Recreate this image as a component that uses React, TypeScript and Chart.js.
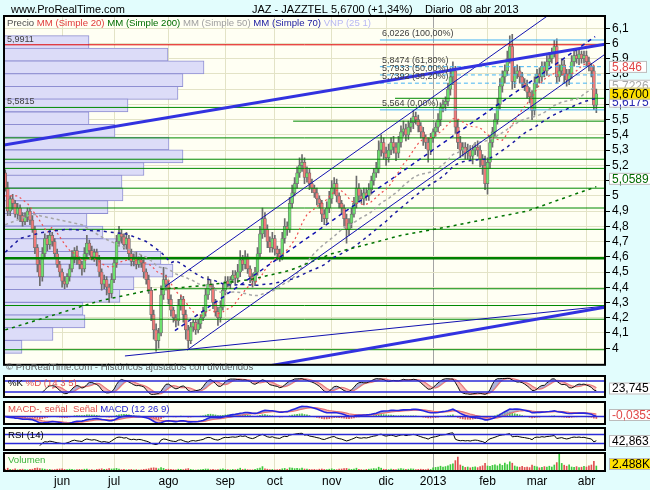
import { useEffect, useRef } from "react"
import { Chart, registerables } from "chart.js"

Chart.register(...registerables)
Chart.defaults.font.family = "'Liberation Sans', Arial, sans-serif"
Chart.defaults.color = "#000"

// daily closes, 30 abr 2012 .. 08 abr 2013
const closes = [
  5.05, 4.9, 4.98, 4.95, 4.88, 4.92, 4.87, 4.83, 4.86, 4.9,
  4.84, 4.78, 4.66, 4.55, 4.47, 4.62, 4.72, 4.68, 4.74, 4.7,
  4.62, 4.55, 4.5, 4.44, 4.42, 4.47, 4.52, 4.6, 4.64, 4.58,
  4.55, 4.52, 4.62, 4.69, 4.64, 4.6, 4.63, 4.58, 4.5, 4.42,
  4.45, 4.4, 4.36, 4.45, 4.56, 4.7, 4.75, 4.73, 4.68, 4.72,
  4.62, 4.57, 4.6, 4.55, 4.58, 4.56, 4.5, 4.45, 4.38, 4.22,
  4.12, 4.05, 4.1, 4.35, 4.45, 4.42, 4.32, 4.25, 4.2, 4.18,
  4.28, 4.32, 4.22, 4.12, 4.05, 4.14, 4.17, 4.12, 4.16, 4.2,
  4.24, 4.35, 4.42, 4.4, 4.3, 4.24, 4.2, 4.27, 4.38, 4.44,
  4.42, 4.45, 4.48, 4.46, 4.5, 4.58, 4.55, 4.6, 4.52, 4.47,
  4.44, 4.5, 4.62, 4.75, 4.85, 4.78, 4.7, 4.66, 4.72, 4.65,
  4.62, 4.6, 4.72, 4.8, 4.78, 4.95, 5.02, 5.08, 5.15, 5.2,
  5.22, 5.12, 5.15, 5.08, 5.05, 5.02, 4.98, 4.95, 4.88, 4.85,
  4.92, 4.98, 5.05, 5.08, 5.0, 4.95, 4.92, 4.85, 4.78, 4.82,
  4.88, 4.95, 5.05, 5.0, 4.98, 5.02, 5.0, 5.04, 5.1, 5.15,
  5.18, 5.3, 5.35, 5.28, 5.25, 5.3, 5.35, 5.32, 5.28, 5.35,
  5.42, 5.44, 5.4, 5.45, 5.48, 5.52, 5.5, 5.46, 5.42, 5.38,
  5.35, 5.3, 5.38, 5.42, 5.45, 5.5, 5.58, 5.6, 5.62, 5.7,
  5.78, 5.82, 5.45, 5.35, 5.3, 5.32, 5.28, 5.3, 5.26, 5.3,
  5.32, 5.3, 5.24, 5.2, 5.08, 5.22, 5.35, 5.42, 5.5, 5.6,
  5.72, 5.78, 5.82, 5.9, 5.98, 5.75, 5.8, 5.82, 5.78, 5.74,
  5.72, 5.68, 5.65, 5.56, 5.74, 5.8, 5.78, 5.85, 5.82, 5.88,
  5.9, 5.94, 5.98, 5.78, 5.82, 5.86, 5.8, 5.76, 5.8, 5.88,
  5.92, 5.9, 5.93, 5.9, 5.92, 5.88, 5.85, 5.82, 5.595, 5.67,
]
const firstOpen = 5.15

// wick lengths above / below the body, in cents
const wickUp = [
  2, 4, 2, 3, 2, 3, 2, 2, 3, 2, 2, 3, 2, 2, 3, 4, 3, 2, 4, 2,
  2, 3, 2, 2, 3, 2, 3, 4, 2, 3, 2, 2, 4, 5, 2, 3, 2, 2, 3, 2,
  3, 2, 2, 4, 3, 4, 5, 3, 2, 4, 2, 3, 2, 3, 2, 3, 2, 2, 3, 2,
  3, 4, 3, 6, 8, 3, 2, 3, 2, 2, 4, 3, 2, 3, 3, 3, 2, 2, 3, 2,
  3, 4, 5, 3, 2, 2, 3, 4, 4, 3, 3, 2, 3, 3, 5, 6, 3, 4, 2, 2,
  2, 3, 4, 5, 7, 4, 3, 3, 4, 2, 2, 3, 4, 5, 3, 4, 5, 4, 4, 5,
  5, 3, 4, 3, 3, 2, 3, 2, 2, 3, 4, 5, 5, 4, 3, 2, 2, 2, 3, 3,
  4, 4, 8, 3, 4, 3, 3, 4, 3, 3, 4, 6, 5, 3, 4, 4, 3, 4, 3, 4,
  4, 5, 3, 4, 3, 4, 3, 3, 2, 3, 2, 3, 3, 2, 3, 4, 3, 3, 3, 4,
  6, 6, 3, 5, 4, 3, 3, 4, 3, 3, 3, 4, 3, 3, 6, 3, 4, 3, 4, 4,
  5, 4, 4, 5, 7, 8, 5, 4, 3, 3, 3, 4, 3, 4, 4, 3, 4, 3, 3, 4,
  4, 3, 4, 5, 4, 4, 3, 3, 3, 4, 3, 4, 3, 2, 3, 3, 3, 2, 3, 3,
]
const wickDown = [
  2, 3, 3, 4, 2, 3, 4, 3, 2, 3, 3, 2, 4, 5, 6, 3, 3, 4, 3, 3,
  3, 2, 3, 4, 3, 2, 3, 2, 4, 3, 3, 4, 2, 3, 3, 2, 3, 4, 3, 4,
  3, 5, 6, 3, 2, 3, 3, 4, 3, 3, 4, 3, 3, 3, 2, 3, 4, 3, 2, 4,
  6, 7, 5, 2, 3, 4, 3, 4, 3, 4, 3, 3, 5, 6, 5, 2, 3, 3, 2, 3,
  2, 3, 3, 2, 4, 3, 5, 3, 2, 3, 2, 3, 2, 4, 3, 3, 4, 3, 3, 4,
  4, 3, 2, 2, 3, 5, 4, 3, 3, 4, 4, 3, 2, 3, 4, 2, 3, 2, 3, 3,
  4, 4, 3, 4, 3, 3, 4, 3, 5, 4, 3, 3, 3, 4, 4, 3, 4, 5, 9, 4,
  3, 2, 3, 4, 3, 4, 3, 3, 3, 3, 3, 3, 4, 4, 5, 3, 3, 4, 5, 3,
  3, 3, 4, 3, 3, 4, 3, 4, 4, 5, 4, 8, 3, 3, 3, 3, 4, 3, 4, 3,
  4, 5, 4, 4, 5, 4, 4, 4, 3, 5, 3, 4, 5, 6, 4, 7, 4, 3, 3, 3,
  3, 4, 4, 3, 3, 5, 4, 3, 4, 3, 3, 4, 4, 6, 3, 3, 4, 3, 4, 3,
  3, 3, 3, 4, 3, 3, 6, 4, 3, 3, 3, 3, 4, 3, 3, 3, 3, 4, 3, 5,
]

// daily volume, thousands of shares
const volumes = [
  900, 1400, 800, 700, 1100, 600, 800, 900, 700, 600,
  800, 900, 1300, 1500, 1200, 1100, 900, 700, 800, 600,
  700, 900, 1000, 1100, 800, 700, 900, 800, 600, 700,
  800, 700, 900, 1000, 600, 700, 500, 800, 900, 1100,
  800, 900, 1200, 1000, 1100, 1300, 900, 700, 800, 600,
  700, 800, 600, 700, 500, 600, 800, 900, 1100, 1500,
  1600, 1400, 1100, 1700, 1300, 800, 900, 800, 700, 600,
  900, 800, 700, 1000, 1200, 800, 600, 500, 600, 700,
  800, 1000, 900, 700, 800, 600, 700, 900, 1100, 800,
  700, 600, 800, 700, 900, 1400, 800, 900, 700, 600,
  600, 800, 1200, 1500, 2200, 1100, 900, 700, 800, 600,
  700, 800, 1100, 1300, 900, 1600, 1400, 1200, 1300, 1100,
  1500, 1000, 900, 800, 700, 800, 600, 900, 1000, 800,
  700, 900, 1100, 800, 700, 900, 1000, 1200, 1300, 900,
  800, 900, 1400, 800, 700, 600, 800, 900, 1000, 1200,
  1100, 1900, 1400, 900, 800, 700, 900, 800, 700, 1000,
  1200, 1000, 800, 900, 1100, 1000, 700, 800, 900, 800,
  700, 900, 800, 1600, 1800, 2000, 2400, 1900, 2200, 2600,
  3200, 3600, 5200, 7000, 3000, 2400, 1800, 2000, 1600, 1900,
  2100, 1700, 2200, 2600, 3800, 2500, 2300, 2800, 3100, 2600,
  3400, 2800, 4000, 3200, 4600, 3900, 2500, 2100, 1900, 2300,
  1800, 2000, 1700, 2900, 2400, 2100, 1600, 1800, 2200, 1900,
  2400, 2000, 3000, 4200, 8600, 3800, 2900, 2400, 3100, 2000,
  1800, 2200, 1700, 1900, 2300, 2000, 2600, 3000, 4800, 2488,
]

// first trading day of each month (day index) and its axis label
const monthStarts = [23, 44, 66, 89, 109, 132, 154, 173, 195, 215, 235]
const monthNames = ["jun", "jul", "ago", "sep", "oct", "nov", "dic", "2013", "feb", "mar", "abr"]
const yearStart = 173

const priceTicks = [4, 4.1, 4.2, 4.3, 4.4, 4.5, 4.6, 4.7, 4.8, 4.9, 5, 5.1, 5.2, 5.3, 5.4, 5.5, 5.6, 5.7, 5.8, 5.9, 6, 6.1]

// volume profile: bin centre prices and bin volume
const profilePrices = [
  6.009, 5.926, 5.843, 5.759, 5.676, 5.593, 5.509, 5.426, 5.343, 5.259, 5.176, 5.093, 5.009,
  4.926, 4.843, 4.759, 4.676, 4.593, 4.509, 4.426, 4.343, 4.259, 4.176, 4.093, 4.009,
]
const profileVolumes = [
  850, 1640, 2000, 1790, 1740, 1240, 850, 1110, 1650, 1790, 1400, 1180, 1190,
  1040, 830, 990, 1260, 1570, 1690, 1300, 1160, 790, 810, 490, 180,
]

// support / resistance levels
const greenLevels = [5.58, 5.38, 5.24, 5.18, 5.05, 4.92, 4.78, 4.28, 4.19, 3.99]
const greenPartialLevels = [5.64, 5.49, 4.39]
const greenPartialFrom = [157.6, 116.4, 62.6]
const greenThickLevel = 4.59
const redLevel = 5.9911

// Fibonacci retracement
const fibLevels = [6.0226, 5.8474, 5.7933, 5.7392, 5.564]
const fibLabels = ["6,0226 (100,00%)", "5,8474 (61,80%)", "5,7933 (50,00%)", "5,7392 (38,20%)", "5,564 (0,00%)"]
const fibFrom = 151.5

// drawn trend lines: [dayFrom, priceFrom, dayTo, priceTo]
const channelLines = [
  [64.6, 4.404, 219.1, 6.179],
  [73.5, 3.987, 242.5, 5.929],
  [48.4, 3.949, 242.5, 4.276],
]
const channelDashed = [[68.6, 4.115, 238.5, 6.045]]
const heavyLines = [
  [-0.5, 5.333, 242.5, 5.994],
  [107.1, 3.885, 242.5, 4.269],
]

// moving averages read off the chart where the series has no history yet
const mm20EarlyDays = [0, 5, 9, 13, 17]
const mm20EarlyValues = [5.0, 5.0, 4.95, 4.86, 4.76]
const mm50EarlyDays = [0, 11, 31, 40]
const mm50EarlyValues = [4.81, 4.88, 4.81, 4.72]
const mm70EarlyDays = [0, 6, 15, 25, 38, 49, 57, 63, 67]
const mm70EarlyValues = [4.63, 4.72, 4.76, 4.78, 4.77, 4.75, 4.7, 4.63, 4.56]
const mm200Days = [0, 18, 38, 58, 79, 99, 115, 132, 160, 180, 211, 239]
const mm200Values = [4.12, 4.21, 4.31, 4.38, 4.41, 4.45, 4.51, 4.62, 4.74, 4.8, 4.9, 5.06]

const X_MIN = -0.5
const X_MAX = 242.5
const Y_MIN = 3.891
const Y_MAX = 6.18

const opens = closes.map((c, i) => (i === 0 ? firstOpen : closes[i - 1]))
const highs = closes.map((c, i) => Math.max(opens[i], c) + wickUp[i] / 100)
const lows = closes.map((c, i) => Math.min(opens[i], c) - wickDown[i] / 100)
const rising = closes.map((c, i) => c >= opens[i])

function sma(src: (number | null)[], n: number) {
  return src.map((_, i) => {
    if (i < n - 1) return null
    let s = 0
    for (let k = i - n + 1; k <= i; k++) {
      const v = src[k]
      if (v == null) return null
      s += v
    }
    return s / n
  })
}

function ema(src: number[], n: number) {
  const k = 2 / (n + 1)
  const out: number[] = []
  src.forEach((v, i) => out.push(i === 0 ? v : v * k + out[i - 1] * (1 - k)))
  return out
}

function rsi(src: number[], n: number) {
  const out: (number | null)[] = src.map(() => null)
  let g = 0
  let l = 0
  for (let i = 1; i < src.length; i++) {
    const d = src[i] - src[i - 1]
    const up = Math.max(d, 0)
    const dn = Math.max(-d, 0)
    if (i <= n) {
      g += up / n
      l += dn / n
      if (i === n) out[i] = 100 - 100 / (1 + g / (l || 1e-9))
    } else {
      g = (g * (n - 1) + up) / n
      l = (l * (n - 1) + dn) / n
      out[i] = 100 - 100 / (1 + g / (l || 1e-9))
    }
  }
  return out
}

function withEarly(computed: (number | null)[], days: number[], values: number[]) {
  const out = computed.slice()
  days.forEach((d, j) => {
    if (out[d] == null) out[d] = values[j]
  })
  return out
}

const pts = (arr: (number | null)[]) => arr.map((v, i) => ({ x: i, y: v }))
const seg = (l: number[]) => [{ x: l[0], y: l[1] }, { x: l[2], y: l[3] }]

const mm20 = withEarly(sma(closes, 20), mm20EarlyDays, mm20EarlyValues)
const mm50 = withEarly(sma(closes, 50), mm50EarlyDays, mm50EarlyValues)
const mm70 = withEarly(sma(closes, 70), mm70EarlyDays, mm70EarlyValues)
const mm200 = mm200Days.map((d, i) => ({ x: d, y: mm200Values[i] }))

const rawK = closes.map((c, i) => {
  if (i < 13) return null
  const hh = Math.max(...highs.slice(i - 13, i + 1))
  const ll = Math.min(...lows.slice(i - 13, i + 1))
  return hh === ll ? 50 : (100 * (c - ll)) / (hh - ll)
})
const stochK = sma(rawK, 3)
const stochD = sma(stochK, 5)

const ema12 = ema(closes, 12)
const ema26 = ema(closes, 26)
const macd = ema12.map((v, i) => v - ema26[i])
const signal = ema(macd, 9)
const hist = macd.map((v, i) => v - signal[i])
const rsi14 = rsi(closes, 14)

const GRID = "#e3e3c6"
const BG = "#fffff3"

const lineDs = (data: any[], color: string, width: number, dash: number[] = [], order = 30) => ({
  type: "line",
  data,
  borderColor: color,
  borderWidth: width,
  borderDash: dash,
  pointRadius: 0,
  fill: false,
  tension: 0,
  spanGaps: true,
  order,
})

const hLine = (p: number, color: string, width: number, from = X_MIN, dash: number[] = [], order = 40) =>
  lineDs([{ x: from, y: p }, { x: X_MAX, y: p }], color, width, dash, order)

function framePlugin() {
  return {
    id: "frame",
    beforeDraw(chart: any) {
      const { ctx, chartArea: a } = chart
      ctx.save()
      ctx.fillStyle = BG
      ctx.fillRect(a.left, a.top, a.right - a.left, a.bottom - a.top)
      ctx.restore()
    },
    afterDraw(chart: any) {
      const { ctx, chartArea: a } = chart
      ctx.save()
      ctx.strokeStyle = "#000"
      ctx.lineWidth = 2
      ctx.strokeRect(a.left, a.top, a.right - a.left, a.bottom - a.top)
      ctx.restore()
    },
  }
}

function drawTag(ctx: any, left: number, cy: number, text: string, color: string, bg: string) {
  ctx.save()
  ctx.font = "12px 'Liberation Sans', Arial, sans-serif"
  const w = Math.max(38, ctx.measureText(text).width + 6)
  ctx.fillStyle = bg
  ctx.fillRect(left, cy - 6, w, 12)
  ctx.strokeStyle = "#bcbcbc"
  ctx.lineWidth = 1
  ctx.strokeRect(left + 0.5, cy - 5.5, w - 1, 11)
  ctx.fillStyle = color
  ctx.textBaseline = "middle"
  ctx.fillText(text, left + 3, cy + 0.5)
  ctx.restore()
}

const priceTags = [
  { text: "5,6175", value: 5.6175, color: "#2828b0", bg: "#ffffff", lift: 0 },
  { text: "5,846", value: 5.846, color: "#e04848", bg: "#ffffff", lift: 0 },
  { text: "5,7226", value: 5.7226, color: "#a8a8a8", bg: "#ffffff", lift: 0 },
  { text: "5,6700", value: 5.67, color: "#000000", bg: "#ffe000", lift: 0 },
  { text: "5,0589", value: 5.0589, color: "#006a00", bg: "#ffffff", lift: 8 },
]

const mainOverlay = {
  id: "mainOverlay",
  afterDatasetsDraw(chart: any) {
    const { ctx, scales } = chart
    const x = scales.x
    const y = scales.y
    ctx.save()
    ctx.font = "9px 'Liberation Sans', Arial, sans-serif"
    ctx.fillStyle = "#404040"
    ctx.textBaseline = "bottom"
    fibLevels.forEach((p, i) => ctx.fillText(fibLabels[i], x.getPixelForValue(fibFrom) + 2, y.getPixelForValue(p) - 2))
    ctx.fillText("5,9911", chart.chartArea.left + 3, y.getPixelForValue(redLevel) - 1)
    ctx.fillText("5,5815", chart.chartArea.left + 3, y.getPixelForValue(5.5815) - 1)
    ctx.restore()
  },
  afterDraw(chart: any) {
    const left = chart.chartArea.right + 4
    priceTags.forEach((t) => drawTag(chart.ctx, left, chart.scales.y.getPixelForValue(t.value) - t.lift, t.text, t.color, t.bg))
  },
}

function panelTag(text: string, color: string, bg: string) {
  return {
    id: "panelTag",
    afterDraw(chart: any) {
      const a = chart.chartArea
      drawTag(chart.ctx, a.right + 4, (a.top + a.bottom) / 2 + 2, text, color, bg)
    },
  }
}

function xScale(showLabels: boolean) {
  return {
    type: "linear",
    min: X_MIN,
    max: X_MAX,
    offset: false,
    afterBuildTicks: (s: any) => {
      s.ticks = monthStarts.map((v) => ({ value: v }))
    },
    afterFit: (s: any) => {
      s.height = showLabels ? 19 : 0
    },
    grid: {
      offset: false,
      drawTicks: false,
      color: (c: any) => (c.tick && c.tick.value === yearStart ? "#a4a4a4" : GRID),
    },
    border: { display: false },
    ticks: {
      display: showLabels,
      autoSkip: false,
      maxRotation: 0,
      padding: 3,
      font: { size: 12 },
      color: "#000",
      callback: (v: any) => monthNames[monthStarts.indexOf(v)] ?? "",
    },
  }
}

function sideScale(min: number, max: number) {
  return {
    type: "linear",
    position: "right",
    min,
    max,
    offset: false,
    afterFit: (s: any) => {
      s.width = 45
    },
    grid: { display: false, offset: false },
    border: { color: "#000", width: 2 },
    ticks: { display: false },
  }
}

const baseOptions = {
  animation: false,
  responsive: false,
  events: [],
  plugins: { legend: { display: false }, tooltip: { enabled: false } },
}

function mainConfig(): any {
  const datasets: any[] = [
    {
      type: "bar",
      indexAxis: "y",
      xAxisID: "xp",
      yAxisID: "y",
      data: profilePrices.map((p, i) => ({ x: profileVolumes[i], y: p })),
      backgroundColor: "#dcdcf8",
      borderColor: "#8e8ed2",
      borderWidth: 1,
      borderSkipped: false,
      barThickness: 13,
      grouped: false,
      order: 100,
    },
    {
      type: "bar",
      data: closes.map((_, i) => ({ x: i, y: [lows[i], highs[i]] })),
      backgroundColor: "#6c6c6c",
      barThickness: 1,
      grouped: false,
      order: 80,
    },
    {
      type: "bar",
      data: closes.map((c, i) => ({ x: i, y: [opens[i], c] })),
      backgroundColor: rising.map((r) => (r ? "#6ee06e" : "#f07a7a")),
      borderColor: "#6c6c6c",
      borderWidth: 0.7,
      borderSkipped: false,
      barThickness: 3,
      grouped: false,
      order: 70,
    },
    ...greenLevels.map((p) => hLine(p, "#008a00", 1)),
    ...greenPartialLevels.map((p, i) => hLine(p, "#008a00", 1, greenPartialFrom[i])),
    hLine(greenThickLevel, "#008000", 2.5),
    hLine(redLevel, "#e00000", 1),
    ...fibLevels.map((p, i) => hLine(p, "#44b4f4", 1, fibFrom, i === 0 || i === 4 ? [] : [4, 3], 35)),
    lineDs(mm200, "#007400", 1.5, [3, 4], 30),
    lineDs(pts(mm70), "#1a1aa0", 1.5, [3, 4], 30),
    lineDs(pts(mm50), "#a6a6a6", 1.5, [3, 3], 30),
    lineDs(pts(mm20), "#f05050", 1.2, [2, 3], 30),
    ...channelLines.map((l) => lineDs(seg(l), "#1212b0", 1, [], 20)),
    ...channelDashed.map((l) => lineDs(seg(l), "#1212b0", 1.5, [4, 4], 20)),
    ...heavyLines.map((l) => lineDs(seg(l), "#3232e0", 3, [], 15)),
  ]
  return {
    type: "bar",
    data: { datasets },
    options: {
      ...baseOptions,
      layout: { padding: { left: 4, right: 0, top: 16, bottom: 1 } },
      scales: {
        x: xScale(false),
        xp: { type: "linear", display: false, min: 0, max: 6010, offset: false },
        y: {
          type: "linear",
          position: "right",
          min: Y_MIN,
          max: Y_MAX,
          offset: false,
          afterBuildTicks: (s: any) => {
            s.ticks = priceTicks.map((v) => ({ value: v }))
          },
          afterFit: (s: any) => {
            s.width = 45
          },
          grid: { offset: false, color: GRID, tickColor: "#000", tickLength: 5 },
          border: { color: "#000", width: 2 },
          ticks: {
            autoSkip: false,
            padding: 2,
            font: { size: 12 },
            color: "#000",
            callback: (v: any) => String(Math.round(Number(v) * 10) / 10).replace(".", ","),
          },
        },
      },
    },
    plugins: [framePlugin(), mainOverlay],
  }
}

function stochConfig(): any {
  return {
    type: "line",
    data: {
      datasets: [
        {
          ...lineDs(pts(stochK), "#101010", 1, [], 10),
          spanGaps: false,
          fill: { target: 1, above: "rgba(150,155,205,0.75)", below: "rgba(245,165,165,0.75)" },
        },
        { ...lineDs(pts(stochD), "#f07070", 1.5, [], 11), spanGaps: false },
        hLine(80, "#2a2ad8", 1.5, X_MIN, [], 5),
        hLine(20, "#2a2ad8", 1.5, X_MIN, [], 5),
      ],
    },
    options: {
      ...baseOptions,
      layout: { padding: { left: 4, right: 0, top: 2, bottom: 2 } },
      scales: { x: xScale(false), y: sideScale(-8, 108) },
    },
    plugins: [framePlugin(), panelTag("23,745", "#000", "#ffffff")],
  }
}

function macdConfig(): any {
  return {
    type: "bar",
    data: {
      datasets: [
        {
          type: "bar",
          data: hist.map((v, i) => ({ x: i, y: v })),
          backgroundColor: hist.map((v) => (v >= 0 ? "#4cc44c" : "#e05858")),
          barThickness: 1,
          grouped: false,
          order: 20,
        },
        {
          ...lineDs(pts(macd), "#2626e0", 1.6, [], 10),
          fill: { target: 2, above: "rgba(150,155,200,0.7)", below: "rgba(245,160,160,0.7)" },
        },
        lineDs(pts(signal), "#f06a6a", 1.5, [], 11),
        hLine(0, "#2a2ad8", 1.5, X_MIN, [], 5),
      ],
    },
    options: {
      ...baseOptions,
      layout: { padding: { left: 4, right: 0, top: 3, bottom: 2 } },
      scales: { x: xScale(false), y: sideScale(-0.13, 0.25) },
    },
    plugins: [framePlugin(), panelTag("-0,0353", "#e04848", "#ffffff")],
  }
}

function rsiConfig(): any {
  return {
    type: "line",
    data: {
      datasets: [
        lineDs(pts(rsi14), "#000000", 1, [], 10),
        hLine(70, "#2a2ad8", 1.5, X_MIN, [], 5),
        hLine(30, "#2a2ad8", 1.5, X_MIN, [], 5),
      ],
    },
    options: {
      ...baseOptions,
      layout: { padding: { left: 4, right: 0, top: 2, bottom: 2 } },
      scales: { x: xScale(false), y: sideScale(0, 100) },
    },
    plugins: [framePlugin(), panelTag("42,863", "#000", "#ffffff")],
  }
}

function volumeConfig(): any {
  return {
    type: "bar",
    data: {
      datasets: [
        {
          data: volumes.map((v, i) => ({ x: i, y: v })),
          backgroundColor: rising.map((r) => (r ? "#3cc83c" : "#e05050")),
          barThickness: 1,
          grouped: false,
        },
      ],
    },
    options: {
      ...baseOptions,
      layout: { padding: { left: 4, right: 0, top: 2, bottom: 0 } },
      scales: { x: xScale(true), y: sideScale(0, 9000) },
    },
    plugins: [framePlugin(), panelTag("2.488K", "#000", "#ffe000")],
  }
}

const txt = (extra: any) => ({ position: "absolute" as const, whiteSpace: "pre" as const, lineHeight: "12px", ...extra })

export default function App() {
  const mainRef = useRef<HTMLCanvasElement | null>(null)
  const stochRef = useRef<HTMLCanvasElement | null>(null)
  const macdRef = useRef<HTMLCanvasElement | null>(null)
  const rsiRef = useRef<HTMLCanvasElement | null>(null)
  const volRef = useRef<HTMLCanvasElement | null>(null)

  useEffect(() => {
    const charts: Chart[] = []
    const pairs: [HTMLCanvasElement | null, () => any][] = [
      [mainRef.current, mainConfig],
      [stochRef.current, stochConfig],
      [macdRef.current, macdConfig],
      [rsiRef.current, rsiConfig],
      [volRef.current, volumeConfig],
    ]
    pairs.forEach(([el, cfg]) => {
      if (el) charts.push(new Chart(el, cfg()))
    })
    return () => charts.forEach((c) => c.destroy())
  }, [])

  const font = "'Liberation Sans', Arial, sans-serif"
  const canvasStyle = (top: number, h: number) => ({ position: "absolute" as const, left: 0, top, width: 650, height: h })

  return (
    <div
      style={{
        position: "fixed",
        left: 0,
        top: 0,
        width: 650,
        height: 490,
        overflow: "hidden",
        background: "#e2fdfd",
        fontFamily: font,
        color: "#000",
      }}
    >
      <canvas ref={mainRef} width={650} height={374} style={canvasStyle(0, 374)} />
      <canvas ref={stochRef} width={650} height={25} style={canvasStyle(374, 25)} />
      <canvas ref={macdRef} width={650} height={27} style={canvasStyle(399, 27)} />
      <canvas ref={rsiRef} width={650} height={26} style={canvasStyle(426, 26)} />
      <canvas ref={volRef} width={650} height={39} style={canvasStyle(451, 39)} />

      <div style={txt({ left: 11, top: 3, fontSize: 11 })}>www.ProRealTime.com</div>
      <div style={txt({ left: 252, top: 3, fontSize: 11 })}>JAZ - JAZZTEL</div>
      <div style={txt({ left: 331, top: 3, fontSize: 11 })}>5,6700 (+1,34%)</div>
      <div style={txt({ left: 425, top: 3, fontSize: 11 })}>Diario  08 abr 2013</div>

      <div style={txt({ left: 7, top: 17, fontSize: 9.6 })}>
        <span style={{ color: "#505050" }}>Precio </span>
        <span style={{ color: "#e03a3a" }}>MM (Simple 20) </span>
        <span style={{ color: "#006e00" }}>MM (Simple 200) </span>
        <span style={{ color: "#a0a0a0" }}>MM (Simple 50) </span>
        <span style={{ color: "#1a1aa0" }}>MM (Simple 70) </span>
        <span style={{ color: "#b8b8f4" }}>VNP (25 1)</span>
      </div>

      <div style={txt({ left: 6, top: 361, fontSize: 9.6, color: "#606060" })}>
        © ProRealTime.com - Históricos ajustados con dividendos
      </div>

      <div style={txt({ left: 8, top: 377, fontSize: 9.6 })}>
        <span>%K </span>
        <span style={{ color: "#e05050" }}>%D (14 3 5)</span>
      </div>
      <div style={txt({ left: 8, top: 403, fontSize: 9.6 })}>
        <span style={{ color: "#e05050" }}>MACD-, señal  Señal </span>
        <span style={{ color: "#2626d0" }}>MACD (12 26 9)</span>
      </div>
      <div style={txt({ left: 8, top: 429, fontSize: 9.6 })}>RSI (14)</div>
      <div style={txt({ left: 8, top: 454, fontSize: 9.6, color: "#3cb43c" })}>Volumen</div>
    </div>
  )
}
